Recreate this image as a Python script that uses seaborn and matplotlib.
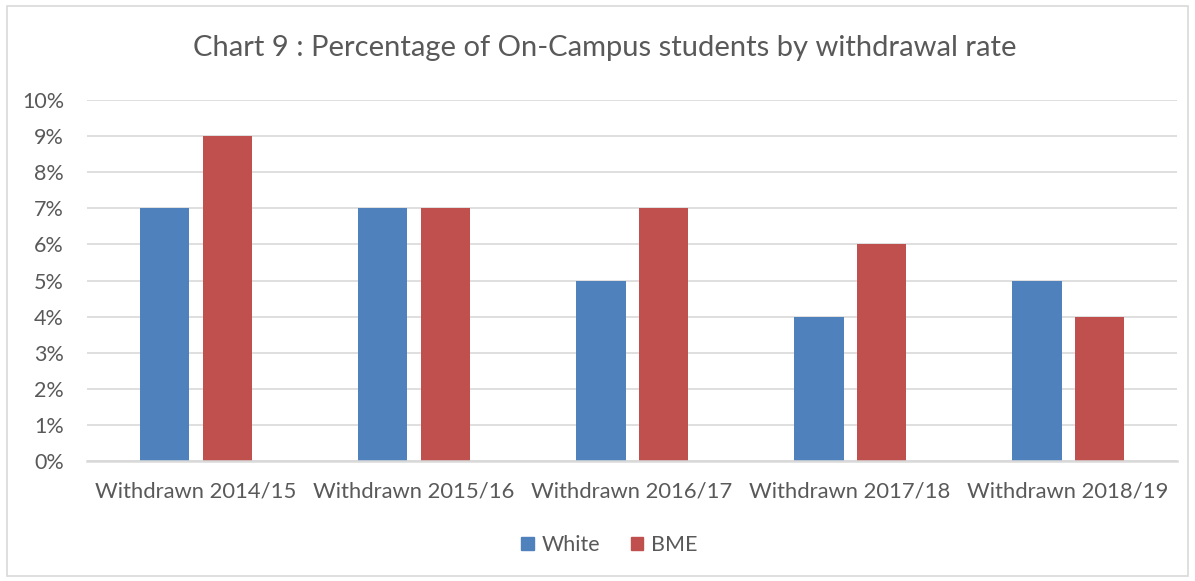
import matplotlib
matplotlib.use("Agg")
import matplotlib.pyplot as plt
import matplotlib.patches as mpatches
import pandas as pd
import seaborn as sns

categories = ["Withdrawn 2014/15", "Withdrawn 2015/16", "Withdrawn 2016/17",
              "Withdrawn 2017/18", "Withdrawn 2018/19"]
white = [7, 7, 5, 4, 5]
bme = [9, 7, 7, 6, 4]
series_names = ["White", "BME"]
colors = ["#4F81BD", "#C0504D"]
y_ticks = list(range(0, 11))

df = pd.DataFrame({
    "category": categories * 2,
    "group": [series_names[0]] * len(categories) + [series_names[1]] * len(categories),
    "value": white + bme,
})

sns.set_theme(style="white")
plt.rcParams["font.family"] = ["Lato", "DejaVu Sans"]
text_color = "#595959"
grid_color = "#D9D9D9"

fig = plt.figure(figsize=(11.95, 5.81), dpi=100)
ax = fig.add_axes([0.0728, 0.2065, 0.9122, 0.6214])

sns.barplot(data=df, x="category", y="value", hue="group",
            palette=colors, width=0.57, gap=0.21, ax=ax, legend=False,
            saturation=1, linewidth=0, zorder=3)

ax.set_xlim(-0.5, len(categories) - 0.5)
ax.set_ylim(0, 10)
ax.set_yticks(y_ticks)
ax.set_yticklabels([f"{t}%" for t in y_ticks])
ax.grid(axis="y", color=grid_color, linewidth=1.2, zorder=0)
ax.set_axisbelow(True)
for s in ["top", "right", "left"]:
    ax.spines[s].set_visible(False)
ax.spines["bottom"].set_color(grid_color)
ax.spines["bottom"].set_linewidth(1.8)
ax.spines["bottom"].set_zorder(4)
ax.tick_params(axis="y", length=0, pad=16.5, labelsize=15.5, labelcolor=text_color)
ax.tick_params(axis="x", length=0, pad=15, labelsize=15.8, labelcolor=text_color)
ax.set_xlabel("")
ax.set_ylabel("")

fig.text(0.506, 0.917, "Chart 9 : Percentage of On-Campus students by withdrawal rate",
         ha="center", va="center", fontsize=21, color=text_color)

handles = [mpatches.Patch(color=c, label=n) for c, n in zip(colors, series_names)]
fig.legend(handles=handles, loc="center", bbox_to_anchor=(0.510, 0.062), ncol=2,
           frameon=False, fontsize=15.5, labelcolor=text_color,
           handlelength=0.6, handleheight=0.6, handletextpad=0.35, columnspacing=1.4)

fig.patches.append(mpatches.Rectangle((0.006, 0.008), 0.988, 0.982, transform=fig.transFigure,
                                      fill=False, edgecolor=grid_color, linewidth=1.2))

fig.savefig("out.png", dpi=100, facecolor="white")
